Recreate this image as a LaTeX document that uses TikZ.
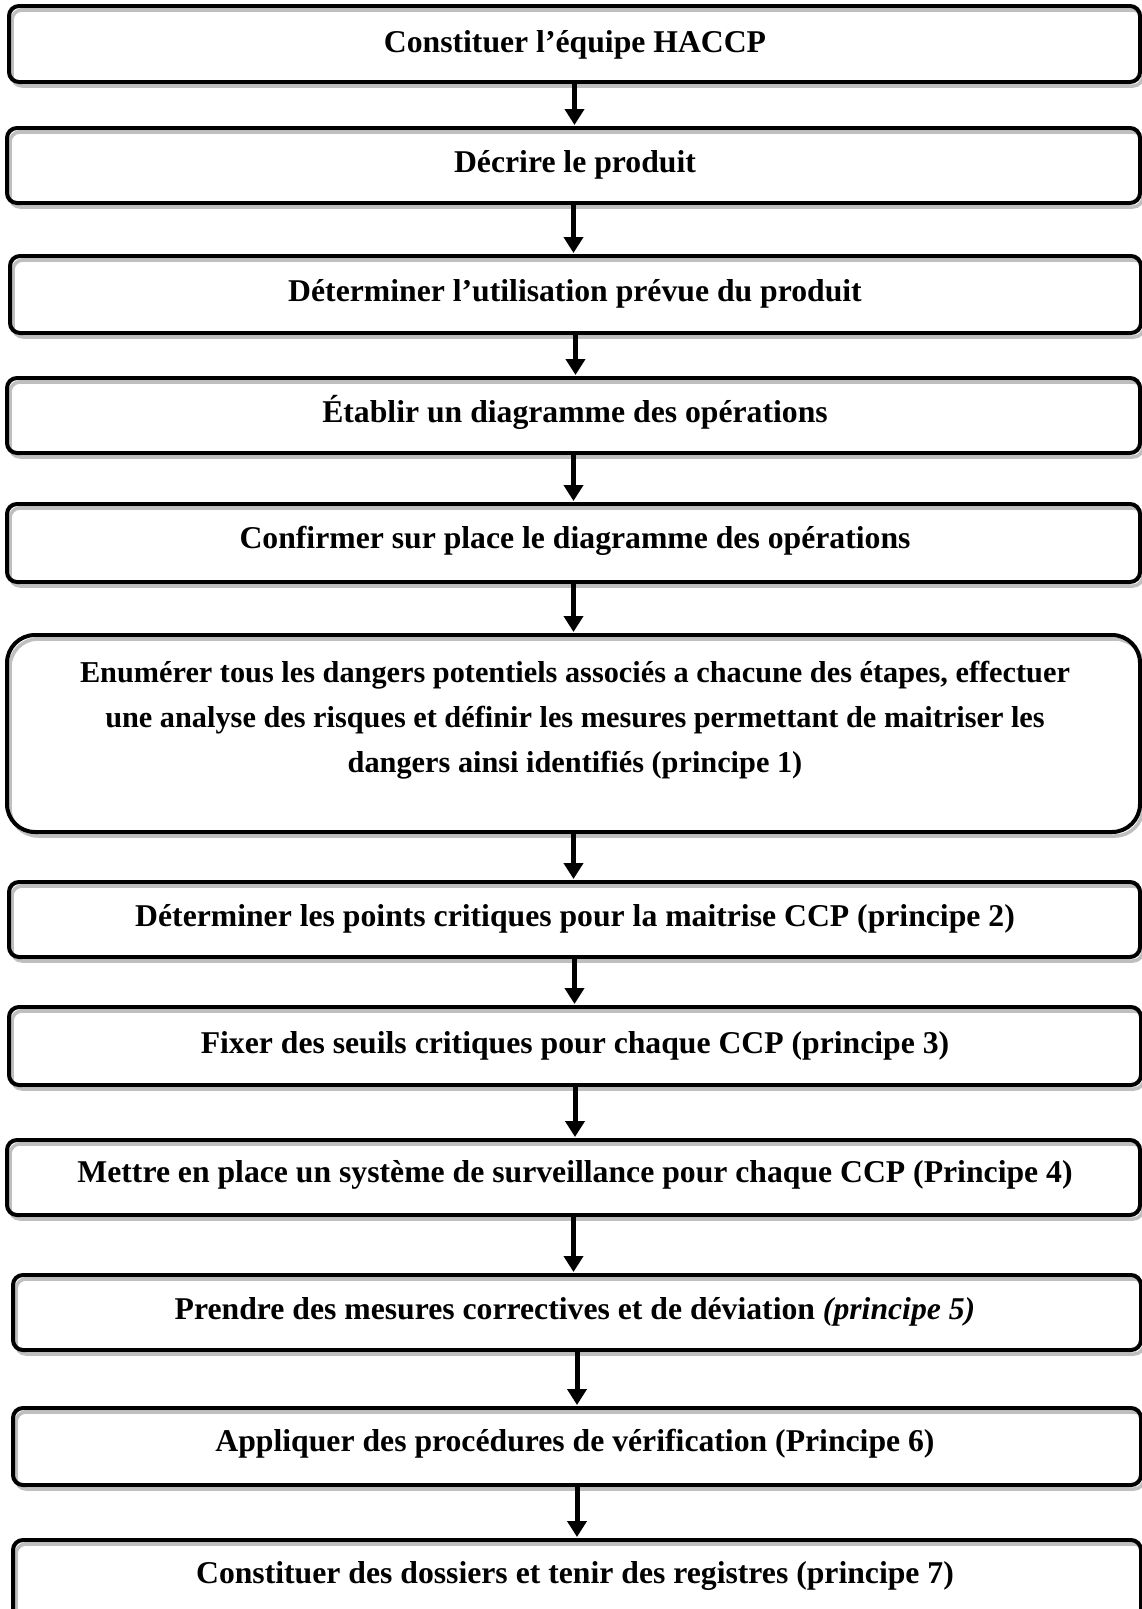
\documentclass[tikz,border=0pt]{standalone}
\usepackage{fontspec}
\setmainfont{Liberation Serif}
\usetikzlibrary{arrows.meta,shadows}
\begin{document}
\begin{tikzpicture}[x=1pt,y=-1pt,
  stepbox/.style={draw=black, line width=4pt, rounded corners=10pt, inner sep=0pt,
    general shadow={shadow xshift=3pt, shadow yshift=-4pt, draw=black!25, line width=3.5pt}},
  lbl/.style={font=\bfseries\fontsize{31.7}{44}\selectfont, align=center, inner sep=0pt},
  arr/.style={line width=5pt, -{Triangle[width=19pt,length=16pt]}, shorten >=1pt}]
\useasboundingbox (0,0) rectangle (1142,1609);
\clip (0,0) rectangle (1142,1609);

\node[stepbox, minimum width=1131pt, minimum height=76pt] (b1) at (574.5,44) {};
\node[stepbox, minimum width=1133pt, minimum height=75pt] (b2) at (573.5,165.5) {};
\node[stepbox, minimum width=1131pt, minimum height=77pt] (b3) at (575.5,294.5) {};
\node[stepbox, minimum width=1133pt, minimum height=75pt] (b4) at (573.5,415.5) {};
\node[stepbox, minimum width=1133pt, minimum height=78pt] (b5) at (573.5,543) {};
\node[stepbox, rounded corners=28pt, minimum width=1133pt, minimum height=197pt] (b6) at (573.5,733.5) {};
\node[stepbox, minimum width=1131pt, minimum height=75pt] (b7) at (574.5,919.5) {};
\node[stepbox, minimum width=1132pt, minimum height=78pt] (b8) at (575,1046) {};
\node[stepbox, minimum width=1133pt, minimum height=75pt] (b9) at (573.5,1177.5) {};
\node[stepbox, minimum width=1128pt, minimum height=75pt] (b10) at (577,1312.5) {};
\node[stepbox, minimum width=1128pt, minimum height=77pt] (b11) at (577,1446.5) {};
\node[stepbox, minimum width=1128pt, minimum height=80pt] (b12) at (577,1580) {};

\node[lbl] (t1) at (575,44.5) {Constituer l’équipe HACCP};
\node[lbl] (t2) at (575,164.5) {Décrire le produit};
\node[lbl] (t3) at (575,293.5) {Déterminer l’utilisation prévue du produit};
\node[lbl] (t4) at (575,412) {Établir un diagramme des opérations};
\node[lbl] (t5) at (575,540.5) {Confirmer sur place le diagramme des opérations};
\node[lbl, font=\bfseries\fontsize{30.3}{45}\selectfont] (t6) at (575,720) {Enumérer tous les dangers potentiels associés a chacune des étapes, effectuer\\une analyse des risques et définir les mesures permettant de maitriser les\\dangers ainsi identifiés (principe 1)};
\node[lbl] (t7) at (575,918.5) {Déterminer les points critiques pour la maitrise CCP (principe 2)};
\node[lbl] (t8) at (575,1045.5) {Fixer des seuils critiques pour chaque CCP (principe 3)};
\node[lbl] (t9) at (575,1174.5) {Mettre en place un système de surveillance pour chaque CCP (Principe 4)};
\node[lbl] (t10) at (575,1311.5) {Prendre des mesures correctives et de déviation \textit{(principe 5)}};
\node[lbl] (t11) at (575,1443.5) {Appliquer des procédures de vérification (Principe 6)};
\node[lbl] (t12) at (575,1575.5) {Constituer des dossiers et tenir des registres (principe 7)};

\draw[arr] (b1.south) -- (b1.south |- b2.north);
\draw[arr] (b2.south) -- (b2.south |- b3.north);
\draw[arr] (b3.south) -- (b3.south |- b4.north);
\draw[arr] (b4.south) -- (b4.south |- b5.north);
\draw[arr] (b5.south) -- (b5.south |- b6.north);
\draw[arr] (b6.south) -- (b6.south |- b7.north);
\draw[arr] (b7.south) -- (b7.south |- b8.north);
\draw[arr] (b8.south) -- (b8.south |- b9.north);
\draw[arr] (b9.south) -- (b9.south |- b10.north);
\draw[arr] (b10.south) -- (b10.south |- b11.north);
\draw[arr] (b11.south) -- (b11.south |- b12.north);
\end{tikzpicture}
\end{document}
